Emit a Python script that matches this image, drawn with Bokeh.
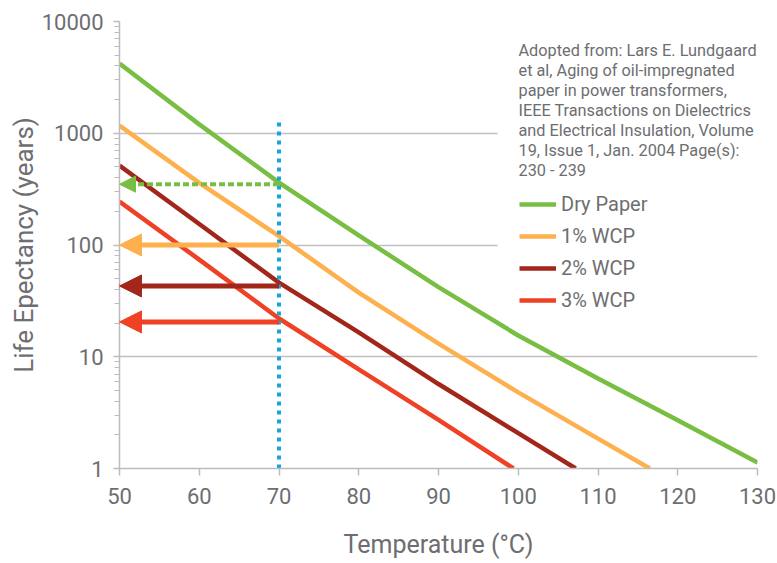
from bokeh.plotting import figure
from bokeh.models import (Arrow, NormalHead, Label, BoxAnnotation, FixedTicker,
                          PrintfTickFormatter, Range1d)
from bokeh.embed import file_html
from bokeh.resources import INLINE

# ---- data ----
temps_dry = [50, 60, 70, 80, 90, 100, 110, 120, 130]
life_dry = [4210, 1200, 362, 122, 42, 15.5, 6.4, 2.7, 1.13]
temps_1 = [50, 60, 70, 80, 90, 100, 110, 116.5]
life_1 = [1172, 360, 120, 37.5, 13.1, 4.8, 1.85, 1.0]
temps_2 = [50, 60, 70, 80, 90, 100, 107.2]
life_2 = [515, 154, 46, 16.5, 5.7, 2.07, 1.0]
temps_3 = [50, 60, 70, 80, 90, 99.4]
life_3 = [245, 74, 22, 7.7, 2.72, 1.0]

series_names = ["Dry Paper", "1% WCP", "2% WCP", "3% WCP"]
series_temps = [temps_dry, temps_1, temps_2, temps_3]
series_life = [life_dry, life_1, life_2, life_3]
series_colors = ["#78be43", "#fdb04d", "#a3261b", "#ef4123"]

ref_temp = 70          # vertical dotted marker
ref_bottom = 1
ref_top = 1350
axis_temp = 50         # arrows point to the y axis
arrow_levels = [350, 100, 43, 20.5]
arrow_dashed = [True, False, False, False]

x_ticks = [50, 60, 70, 80, 90, 100, 110, 120, 130]
y_ticks = [1, 10, 100, 1000, 10000]
grid_ticks = [10, 100, 1000]
y_minor = [m * 10 ** e for e in range(4) for m in range(2, 10)]

source_lines = [
    "Adopted from: Lars E. Lundgaard",
    "et al, Aging of oil-impregnated",
    "paper in power transformers,",
    "IEEE Transactions on Dielectrics",
    "and Electrical Insulation, Volume",
    "19, Issue 1, Jan. 2004 Page(s):",
    "230 - 239",
]

FONT = "Roboto"
TXT = "#6d6e71"
AXC = "#bcbcc0"

p = figure(width=777, height=563, x_range=Range1d(50, 130), y_range=Range1d(1, 10000),
           y_axis_type="log", output_backend="svg", toolbar_location=None,
           min_border_left=119, min_border_right=20, min_border_top=21, min_border_bottom=95)
p.outline_line_color = None
p.background_fill_color = "white"
p.border_fill_color = "white"

p.xgrid.visible = False
p.ygrid.ticker = FixedTicker(ticks=grid_ticks)
p.ygrid.grid_line_color = "#c0c0c4"
p.ygrid.grid_line_width = 1.5

# white panel behind the source note and legend
p.add_layout(BoxAnnotation(left=97.4, bottom=15, fill_color="white", fill_alpha=1,
                           line_color=None, level="underlay"))

p.xaxis.ticker = FixedTicker(ticks=x_ticks)
p.yaxis.ticker = FixedTicker(ticks=y_ticks, minor_ticks=y_minor)
p.yaxis.formatter = PrintfTickFormatter(format="%d")

for ax in (p.xaxis, p.yaxis):
    ax.axis_line_color = AXC
    ax.axis_line_width = 1.5
    ax.major_tick_line_color = AXC
    ax.minor_tick_line_color = AXC
    ax.major_tick_line_width = 1.5
    ax.minor_tick_line_width = 1.2
    ax.major_tick_in = 0
    ax.minor_tick_in = 0
    ax.major_label_text_font = FONT
    ax.major_label_text_font_size = "22px"
    ax.major_label_text_color = TXT
    ax.axis_label_text_font = FONT
    ax.axis_label_text_font_style = "normal"
    ax.axis_label_text_color = TXT

p.xaxis.major_tick_out = 7
p.xaxis.minor_tick_out = 0
p.xaxis.major_label_standoff = 12
p.xaxis.axis_label = "Temperature (°C)"
p.xaxis.axis_label_text_font_size = "25px"
p.xaxis.axis_label_standoff = 23

p.yaxis.major_tick_out = 6
p.yaxis.minor_tick_out = 5
p.yaxis.major_label_standoff = 10
p.yaxis.axis_label = "Life Epectancy (years)"
p.yaxis.axis_label_text_font_size = "26px"
p.yaxis.axis_label_standoff = 0

for name, xs, ys, col in zip(series_names, series_temps, series_life, series_colors):
    p.line(xs, ys, line_color=col, line_width=4.5, legend_label=name)

# vertical dotted marker at 70 C
p.line([ref_temp, ref_temp], [ref_bottom, ref_top], line_color="#16a6dc",
       line_width=4, line_dash="4 5")

# arrows pointing to the life expectancy at 70 C
for lvl, dashed, col in zip(arrow_levels, arrow_dashed, series_colors):
    size = 16 if dashed else 22
    p.add_layout(Arrow(end=NormalHead(size=size, fill_color=col, line_color=col, line_width=1),
                       x_start=ref_temp, y_start=lvl, x_end=axis_temp, y_end=lvl,
                       line_color=col, line_width=4 if dashed else 5,
                       line_dash="6 3" if dashed else "solid"))

p.add_layout(Label(x=399, y=428, x_units="screen", y_units="screen",
                   text="\n".join(source_lines), text_font=FONT, text_font_size="16.3px",
                   text_color=TXT, text_baseline="top", text_align="left",
                   text_line_height=1.06))

lg = p.legend[0]
lg.location = (400, 156)
lg.border_line_color = None
lg.background_fill_alpha = 0
lg.glyph_width = 37
lg.glyph_height = 20
lg.label_height = 20
lg.spacing = 8
lg.label_standoff = 5
lg.padding = 10
lg.margin = 0
lg.label_text_font = FONT
lg.label_text_font_size = "20px"
lg.label_text_color = TXT

open("out.html", "w").write(file_html(p, INLINE))
